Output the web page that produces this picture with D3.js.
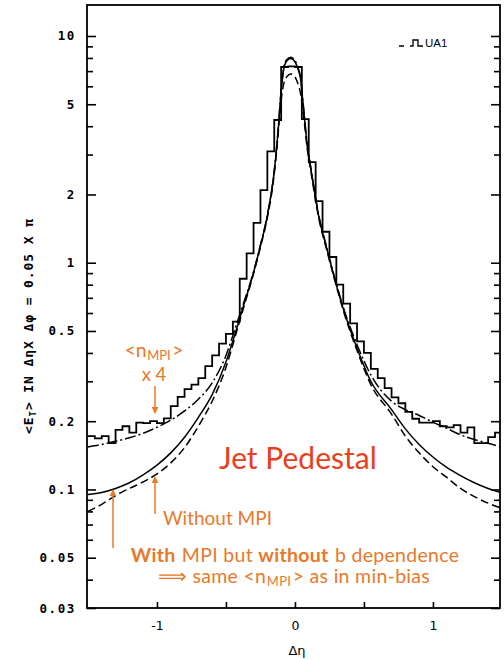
<!DOCTYPE html>
<html>
<head>
<meta charset="utf-8">
<script src="https://cdn.jsdelivr.net/npm/d3@7"></script>
<style>
  html, body { margin: 0; padding: 0; background: #fff; }
  svg { display: block; }
</style>
</head>
<body>
<svg id="chart" width="504" height="660"></svg>
<script>
// UA1 transverse-energy flow around the jet axis versus Δη,
// compared with three model curves (log scale).

// Histogram: UA1 data, bins of 0.05 in Δη starting at -1.5
const binStart = -1.5;
const binStep = 0.05;
const ua1Et = [
  0.172, 0.168, 0.172, 0.160, 0.183, 0.190, 0.178, 0.197, 0.196, 0.200,
  0.196, 0.206, 0.233, 0.256, 0.277, 0.290, 0.310, 0.350, 0.390, 0.440,
  0.485, 0.550, 0.850, 1.10, 1.50, 2.09, 3.10, 4.26, 7.30, 7.35,
  7.30, 4.30, 2.78, 1.87, 1.37, 1.06, 0.80, 0.66, 0.54, 0.45,
  0.40, 0.34, 0.31, 0.28, 0.255, 0.24, 0.22, 0.205, 0.197, 0.197,
  0.200, 0.190, 0.188, 0.192, 0.178, 0.188, 0.160, 0.160, 0.170, 0.178
];

// Model curves sampled in Δη
const curveEta = [
  -1.50, -1.40, -1.30, -1.20, -1.10, -1.00, -0.90, -0.80, -0.70, -0.60,
  -0.50, -0.43, -0.37, -0.31, -0.25, -0.20, -0.16, -0.14, -0.12, -0.10,
  -0.08, -0.06, -0.03, 0.00, 0.02, 0.04, 0.06, 0.09, 0.11, 0.13,
  0.17, 0.23, 0.29, 0.36, 0.45, 0.55, 0.70, 0.80, 0.90, 1.00,
  1.10, 1.20, 1.30, 1.40, 1.49
];
// <n_MPI> x 4 (dash-dot)
const curveMpiX4 = [
  0.154, 0.158, 0.163, 0.169, 0.177, 0.188, 0.202, 0.222, 0.250, 0.295,
  0.390, 0.520, 0.670, 0.870, 1.20, 1.62, 2.28, 2.90, 4.00, 5.80,
  7.30, 7.85, 8.05, 7.80, 7.30, 6.60, 5.00, 3.30, 2.75, 2.30,
  1.65, 1.17, 0.85, 0.61, 0.435, 0.320, 0.245, 0.225, 0.212, 0.198,
  0.186, 0.174, 0.166, 0.160, 0.154
];
// With MPI, no impact-parameter dependence (solid)
const curveMpiNoB = [
  0.095, 0.097, 0.101, 0.107, 0.116, 0.128, 0.145, 0.170, 0.208, 0.262,
  0.365, 0.495, 0.655, 0.860, 1.19, 1.61, 2.26, 2.88, 3.95, 5.70,
  7.20, 7.75, 7.95, 7.70, 7.20, 6.50, 4.95, 3.25, 2.72, 2.28,
  1.63, 1.16, 0.84, 0.60, 0.420, 0.300, 0.225, 0.185, 0.158, 0.139,
  0.125, 0.115, 0.107, 0.101, 0.097
];
// Without MPI (dashed)
const curveNoMpi = [
  0.080, 0.086, 0.094, 0.101, 0.108, 0.117, 0.131, 0.153, 0.190, 0.245,
  0.345, 0.480, 0.640, 0.850, 1.17, 1.58, 2.20, 2.80, 3.80, 5.20,
  6.20, 6.60, 6.80, 6.60, 6.20, 5.60, 4.60, 3.15, 2.65, 2.22,
  1.60, 1.14, 0.83, 0.59, 0.410, 0.290, 0.215, 0.172, 0.145, 0.126,
  0.113, 0.101, 0.093, 0.087, 0.083
];

// Axis ticks
const yMajorTicks = [10, 5, 2, 1, 0.5, 0.2, 0.1, 0.05, 0.03];
const yMajorLabels = ["10", "5", "2", "1", "0.5", "0.2", "0.1", "0.05", "0.03"];
const yMinorTicks = [9, 8, 7, 6, 4, 3, 0.9, 0.8, 0.7, 0.6, 0.4, 0.3,
                     0.09, 0.08, 0.07, 0.06, 0.04];
const xTicks = [-1, -0.5, 0, 0.5, 1];
const xTickLabels = ["-1", "", "0", "", "1"];

const orange = "#e8792b";
const red = "#e8401c";
const annFont = "Lato, 'Open Sans', sans-serif";
const axisFont = "'DejaVu Sans Mono', monospace";

const svg = d3.select("#chart");
const plotLeft = 87, plotRight = 500, plotTop = 5, plotBottom = 608;

const x = d3.scaleLinear().domain([-1.507, 1.486]).range([plotLeft, plotRight]);
const y = d3.scaleLog().domain([0.03, 13.7]).range([plotBottom, plotTop]);

const defs = svg.append("defs");
defs.append("clipPath").attr("id", "plotArea")
  .append("rect").attr("x", plotLeft).attr("y", plotTop)
  .attr("width", plotRight - plotLeft).attr("height", plotBottom - plotTop);

defs.append("marker").attr("id", "arrowHead")
  .attr("viewBox", "0 0 10 10").attr("refX", 9).attr("refY", 5)
  .attr("markerWidth", 7).attr("markerHeight", 7)
  .attr("markerUnits", "userSpaceOnUse")
  .attr("orient", "auto")
  .append("path").attr("d", "M0,0 L10,5 L0,10 Z").attr("fill", orange);

// ---- Axes ----
function styleAxis(g) {
  g.select(".domain").remove();
  g.selectAll(".tick line").attr("stroke", "#000").attr("stroke-width", 1.6);
  g.selectAll(".tick text").attr("fill", "#000")
    .attr("font-family", axisFont).attr("font-weight", "bold");
}

svg.append("g").attr("transform", `translate(${plotLeft},0)`)
  .call(d3.axisLeft(y).tickValues(yMajorTicks).tickSize(-9).tickPadding(11)
    .tickFormat((d, i) => yMajorLabels[i]))
  .call(styleAxis)
  .call(g => g.selectAll(".tick text").attr("font-size", 12.5)
    .attr("letter-spacing", "1.6px"));

svg.append("g").attr("transform", `translate(${plotLeft},0)`)
  .call(d3.axisLeft(y).tickValues(yMinorTicks).tickSize(-6).tickFormat(""))
  .call(styleAxis);

svg.append("g").attr("transform", `translate(${plotRight},0)`)
  .call(d3.axisRight(y).tickValues(yMajorTicks).tickSize(-9).tickFormat(""))
  .call(styleAxis);

svg.append("g").attr("transform", `translate(${plotRight},0)`)
  .call(d3.axisRight(y).tickValues(yMinorTicks).tickSize(-6).tickFormat(""))
  .call(styleAxis);

svg.append("g").attr("transform", `translate(0,${plotBottom})`)
  .call(d3.axisBottom(x).tickValues(xTicks).tickSize(-6).tickPadding(13)
    .tickFormat((d, i) => xTickLabels[i]))
  .call(styleAxis)
  .call(g => g.selectAll(".tick text").attr("font-size", 12.5)
    .attr("font-family", "'DejaVu Sans', sans-serif").attr("font-weight", "normal"));

// Frame
svg.append("rect").attr("x", plotLeft).attr("y", plotTop)
  .attr("width", plotRight - plotLeft).attr("height", plotBottom - plotTop)
  .attr("fill", "none").attr("stroke", "#000").attr("stroke-width", 1.8);

// Axis titles
const yTitle = svg.append("text")
  .attr("transform", "translate(33,326) rotate(-90)")
  .attr("text-anchor", "middle")
  .attr("font-family", axisFont).attr("font-weight", "bold")
  .attr("font-size", 13).attr("letter-spacing", "0.9px").attr("fill", "#000");
yTitle.append("tspan").text("<E");
yTitle.append("tspan").attr("font-size", 9).attr("dy", 3).text("T");
yTitle.append("tspan").attr("dy", -3).text("> IN ΔηX Δφ = 0.05 X π");

svg.append("text").attr("x", 297).attr("y", 655)
  .attr("text-anchor", "middle").attr("font-family", "'DejaVu Sans', sans-serif")
  .attr("font-size", 13).attr("fill", "#000").text("Δη");

// ---- Data ----
const plot = svg.append("g").attr("clip-path", "url(#plotArea)");

const histPts = ua1Et.map((v, i) => [binStart + i * binStep, v]);
histPts.push([binStart + ua1Et.length * binStep, ua1Et[ua1Et.length - 1]]);

plot.append("path")
  .attr("d", d3.line().x(d => x(d[0])).y(d => y(d[1])).curve(d3.curveStepAfter)(histPts))
  .attr("fill", "none").attr("stroke", "#000").attr("stroke-width", 1.8)
  .attr("stroke-linejoin", "miter");

const curveLine = d3.line().x(d => x(d[0])).y(d => y(d[1])).curve(d3.curveMonotoneX);
const series = [
  { vals: curveNoMpi, dash: "8,4" },
  { vals: curveMpiNoB, dash: null },
  { vals: curveMpiX4, dash: "11,3,2,3" }
];
series.forEach(s => {
  plot.append("path")
    .attr("d", curveLine(curveEta.map((e, i) => [e, s.vals[i]])))
    .attr("fill", "none").attr("stroke", "#000").attr("stroke-width", 1.5)
    .attr("stroke-dasharray", s.dash);
});

// Legend
svg.append("path").attr("d", "M399,46 H404 M410,46 H413 V40 H418 V46 H423")
  .attr("fill", "none").attr("stroke", "#000").attr("stroke-width", 1.3);
svg.append("text").attr("x", 425).attr("y", 47)
  .attr("font-family", "'Liberation Sans', Arial, sans-serif").attr("font-size", 11.5)
  .attr("fill", "#000").text("UA1");

// ---- Annotations ----
function arrow(x0, y0, y1) {
  svg.append("line").attr("x1", x0).attr("y1", y0).attr("x2", x0).attr("y2", y1)
    .attr("stroke", orange).attr("stroke-width", 1.5)
    .attr("marker-end", "url(#arrowHead)");
}

const nLabel = svg.append("text").attr("x", 154).attr("y", 357)
  .attr("text-anchor", "middle").attr("font-family", annFont)
  .attr("font-size", 19.5).attr("fill", orange);
nLabel.append("tspan").text("<n");
nLabel.append("tspan").attr("font-size", 13).attr("dy", 3).attr("dx", 0.5).text("MPI");
nLabel.append("tspan").attr("dy", -3).attr("dx", 1.5).text(">");

svg.append("text").attr("x", 154).attr("y", 381).attr("text-anchor", "middle")
  .attr("font-family", annFont).attr("font-size", 18.5).attr("fill", orange).text("x 4");
arrow(155, 386, 413);

svg.append("text").attr("x", 219).attr("y", 469)
  .attr("font-family", annFont).attr("font-size", 30).attr("fill", red)
  .text("Jet Pedestal");

svg.append("text").attr("x", 163).attr("y", 525)
  .attr("font-family", annFont).attr("font-size", 19).attr("fill", orange)
  .text("Without MPI");
arrow(155, 514, 477);
arrow(113, 548, 490);

const line1 = svg.append("text").attr("x", 295).attr("y", 562)
  .attr("text-anchor", "middle").attr("font-family", annFont)
  .attr("font-size", 19.5).attr("letter-spacing", "0.3px").attr("fill", orange);
line1.append("tspan").attr("font-weight", "bold").text("With");
line1.append("tspan").attr("dx", 1).text(" MPI but ");
line1.append("tspan").attr("font-weight", "bold").text("without");
line1.append("tspan").attr("dx", 1).text(" b dependence");

const line2 = svg.append("text").attr("x", 294).attr("y", 583)
  .attr("text-anchor", "middle").attr("font-family", annFont)
  .attr("font-size", 19.5).attr("letter-spacing", "0.3px").attr("fill", orange);
line2.append("tspan").text("⟹ same <n");
line2.append("tspan").attr("font-size", 13).attr("dy", 3).attr("dx", 0.5).text("MPI");
line2.append("tspan").attr("dy", -3).attr("dx", 1.5).text("> as in min-bias");
</script>
</body>
</html>
